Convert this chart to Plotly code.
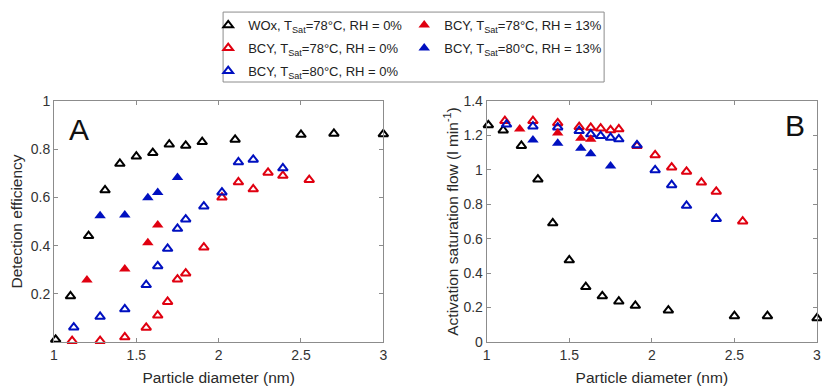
import plotly.graph_objects as go
from plotly.subplots import make_subplots

# ---- data ----
wox_d = [1.01, 1.10, 1.21, 1.31, 1.40, 1.50, 1.60, 1.70, 1.80, 1.90, 2.10, 2.50, 2.70, 3.00]
wox_eff = [0.01, 0.19, 0.44, 0.63, 0.74, 0.77, 0.785, 0.82, 0.815, 0.83, 0.84, 0.86, 0.865, 0.863]
wox_flow = [1.26, 1.23, 1.14, 0.945, 0.69, 0.475, 0.32, 0.267, 0.236, 0.211, 0.184, 0.151, 0.151, 0.138]

bcy78_d = [1.11, 1.28, 1.43, 1.56, 1.63, 1.69, 1.75, 1.80, 1.91, 2.02, 2.12, 2.21, 2.30, 2.39, 2.55]
bcy78_eff = [0.005, 0.005, 0.02, 0.06, 0.11, 0.167, 0.26, 0.285, 0.393, 0.60, 0.663, 0.634, 0.703, 0.69, 0.673]
bcy78_flow = [1.284, 1.284, 1.272, 1.249, 1.245, 1.241, 1.231, 1.236, 1.139, 1.086, 1.015, 0.99, 0.927, 0.874, 0.701]

bcy80_d = [1.12, 1.28, 1.43, 1.56, 1.63, 1.69, 1.75, 1.80, 1.91, 2.02, 2.12, 2.21, 2.39]
bcy80_eff = [0.061, 0.105, 0.136, 0.237, 0.315, 0.387, 0.47, 0.509, 0.563, 0.621, 0.746, 0.757, 0.721]
bcy80_flow = [1.264, 1.253, 1.247, 1.226, 1.207, 1.197, 1.187, 1.178, 1.144, 0.999, 0.912, 0.792, 0.716]

bcy78h_d = [1.20, 1.43, 1.57, 1.63]
bcy78h_eff = [0.257, 0.303, 0.412, 0.485]
bcy78h_flow = [1.237, 1.214, 1.183, 1.178]

bcy80h_d = [1.28, 1.43, 1.57, 1.63, 1.75]
bcy80h_eff = [0.524, 0.527, 0.599, 0.62, 0.683]
bcy80h_flow = [1.173, 1.154, 1.125, 1.094, 1.022]

x_ticks = [1, 1.5, 2, 2.5, 3]
yA_ticks = [0.2, 0.4, 0.6, 0.8, 1]
yB_ticks = [0, 0.2, 0.4, 0.6, 0.8, 1, 1.2, 1.4]

RED = "#e00010"
BLUE = "#0010c0"
BLACK = "#000000"

series = [
    # name, d, eff, flow, color, filled, legend
    ("WOx, T<sub>Sat</sub>=78°C, RH = 0%", wox_d, wox_eff, wox_flow, BLACK, False, "legend"),
    ("BCY, T<sub>Sat</sub>=78°C, RH = 0%", bcy78_d, bcy78_eff, bcy78_flow, RED, False, "legend"),
    ("BCY, T<sub>Sat</sub>=80°C, RH = 0%", bcy80_d, bcy80_eff, bcy80_flow, BLUE, False, "legend"),
    ("BCY, T<sub>Sat</sub>=78°C, RH = 13%", bcy78h_d, bcy78h_eff, bcy78h_flow, RED, True, "legend2"),
    ("BCY, T<sub>Sat</sub>=80°C, RH = 13%", bcy80h_d, bcy80h_eff, bcy80h_flow, BLUE, True, "legend2"),
]

fig = make_subplots(rows=1, cols=2, horizontal_spacing=0.1355)
fig.update_layout(xaxis=dict(domain=[0, 0.4316]), xaxis2=dict(domain=[0.5671, 1]))

for k, (name, d, eff, flow, col, filled, leg) in enumerate(series):
    if filled:
        mk = dict(symbol="triangle-up", size=10, color=col, line=dict(width=0))
    else:
        mk = dict(symbol="triangle-up-open", size=8.5, color=col, line=dict(width=2, color=col))
    fig.add_trace(go.Scatter(x=d, y=eff, mode="markers", marker=mk, name=name, legendgroup=f"g{k}",
                             legend=leg, showlegend=True, cliponaxis=False), row=1, col=1)
    fig.add_trace(go.Scatter(x=d, y=flow, mode="markers", marker=mk, name=name, legendgroup=f"g{k}",
                             legend=leg, showlegend=False, cliponaxis=False), row=1, col=2)

FONT = "Liberation Sans, Arial, sans-serif"
axis_common = dict(showline=True, linecolor="#8c8c8c", linewidth=1, mirror="ticks",
                   ticks="inside", ticklen=4, tickcolor="#8c8c8c", showgrid=False, zeroline=False,
                   tickfont=dict(size=14, color="#333333", family=FONT))

for i in (1, 2):
    fig.update_xaxes(range=[1, 3], tickvals=x_ticks, **axis_common,
                     title=dict(text="Particle diameter (nm)", font=dict(size=15.5, color="#2a2a2a", family=FONT),
                                standoff=10), row=1, col=i)

fig.update_yaxes(range=[0, 1], tickvals=yA_ticks, **axis_common,
                 title=dict(text="Detection efficiency", font=dict(size=15.5, color="#2a2a2a", family=FONT),
                            standoff=4), row=1, col=1)
fig.update_yaxes(range=[0, 1.4], tickvals=yB_ticks, **axis_common,
                 title=dict(text="Activation saturation flow (l min<sup>-1</sup>)",
                            font=dict(size=15.5, color="#2a2a2a", family=FONT), standoff=1), row=1, col=2)

legfont = dict(size=13, color="#222222", family=FONT)
fig.update_layout(
    width=822, height=387,
    margin=dict(l=54, r=1, t=101, b=45),
    plot_bgcolor="white", paper_bgcolor="white",
    font=dict(family=FONT),
    legend=dict(x=0.2021, y=1.377, xanchor="left", yanchor="top", font=legfont,
                bgcolor="rgba(0,0,0,0)", borderwidth=0, tracegroupgap=3, itemwidth=30),
    legend2=dict(x=0.459, y=1.377, xanchor="left", yanchor="top", font=legfont,
                 bgcolor="rgba(0,0,0,0)", borderwidth=0, tracegroupgap=3, itemwidth=30),
    shapes=[dict(type="rect", xref="paper", yref="paper", x0=0.2216, x1=0.721, y0=1.0788, y1=1.369,
                 line=dict(color="#8c8c8c", width=1), fillcolor="rgba(0,0,0,0)", layer="below")],
    annotations=[
        dict(text="A", xref="x domain", yref="y domain", x=0.0755, y=0.88, showarrow=False,
             xanchor="center", yanchor="middle", font=dict(size=30, color="#111111", family=FONT)),
        dict(text="B", xref="x2 domain", yref="y2 domain", x=0.934, y=0.90, showarrow=False,
             xanchor="center", yanchor="middle", font=dict(size=30, color="#111111", family=FONT)),
    ],
)

fig.write_html("out.html", config={"displayModeBar": False},
               post_script="document.body.style.margin='0';")
